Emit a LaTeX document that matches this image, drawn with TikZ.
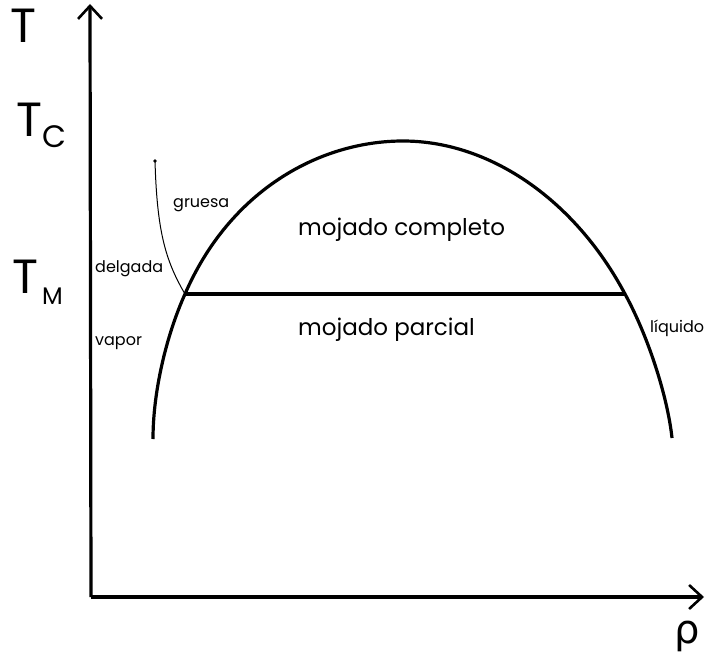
\documentclass[tikz,border=0pt]{standalone}
\usepackage{fontspec}
\setmainfont{Poppins}
\newfontfamily\greekfont{DejaVu Sans}
\usetikzlibrary{arrows.meta}

\begin{document}
\begin{tikzpicture}[x=1pt, y=-1pt,
  axis/.style={line width=3.2pt, -{Straight Barb[length=13pt, width=24pt, line width=2.6pt]}},
  curve/.style={line width=3.2pt},
  thinline/.style={line width=1pt},
  lab/.style={inner sep=0pt, font=\fontsize{16}{16}\selectfont},
  region/.style={inner sep=0pt, font=\fontsize{23}{23}\selectfont},
  big/.style={inner sep=0pt, font=\fontsize{48}{48}\selectfont}]
  \useasboundingbox (0,0) rectangle (706,663);
  % ejes
  \coordinate (origin) at (91,597);
  \coordinate (ytip) at (90,4);
  \coordinate (xtip) at (704,597);
  \draw[axis] (origin) -- (ytip);
  \draw[axis] (origin) -- (xtip);
  \node[big, anchor=base west] (tlab) at (10,43) {T};
  \node[big, anchor=base west] (tclab) at (16,137) {T\raisebox{-11pt}{\fontsize{31}{31}\selectfont C}};
  \node[big, anchor=base west] (tmlab) at (12,293) {T\hspace{4pt}\raisebox{-11pt}{\fontsize{24}{24}\selectfont M}};
  \node[inner sep=0pt, font=\greekfont\fontsize{40}{40}\selectfont] (rholab) at (687,636) {ρ};
  % curva de coexistencia
  \coordinate (lend) at (153,439);
  \coordinate (ljoin) at (185,294);
  \coordinate (peak) at (403,141);
  \coordinate (rjoin) at (625,294);
  \coordinate (rend) at (672,438);
  \draw[curve] (lend) .. controls (153,390) and (167,334) .. (ljoin)
    .. controls (230,190) and (320,141) .. (peak)
    .. controls (490,141) and (575,200) .. (rjoin)
    .. controls (650,340) and (668,400) .. (rend);
  % linea de mojado
  \draw[curve] (ljoin) -- (rjoin);
  % linea de prewetting
  \coordinate (pwtop) at (155,161);
  \draw[thinline] (pwtop) .. controls (157,230) and (165,260) .. (ljoin);
  \fill (pwtop) circle (1.8);
  % textos
  \node[region, anchor=west] (completo) at (298,230) {mojado completo};
  \node[region, anchor=west] (parcial) at (298,330) {mojado parcial};
  \node[lab, anchor=west] (gruesa) at (173,205) {gruesa};
  \node[lab, anchor=west] (delgada) at (95,269) {delgada};
  \node[lab, anchor=west] (vapor) at (95,343) {vapor};
  \node[lab, anchor=west] (liquido) at (650,328) {líquido};
\end{tikzpicture}
\end{document}
